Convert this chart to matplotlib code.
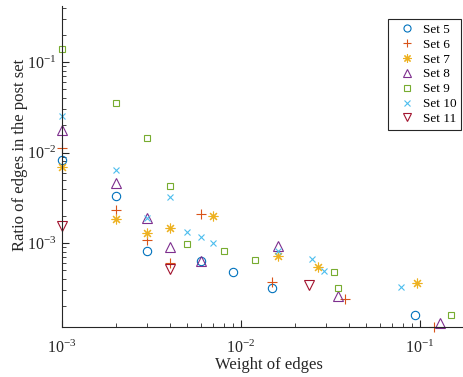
import matplotlib
matplotlib.use("Agg")
import matplotlib.pyplot as plt
from matplotlib.ticker import LogLocator, NullFormatter

plt.rcParams["font.family"] = ["Liberation Serif", "DejaVu Serif"]
plt.rcParams["mathtext.fontset"] = "stix"

# weight of edges / ratio of edges in the post set
set5_x = [0.001, 0.002, 0.003, 0.006, 0.009, 0.015, 0.094]
set5_y = [0.0083, 0.0033, 0.00082, 0.00064, 0.00048, 0.00032, 0.000159]

set6_x = [0.001, 0.002, 0.003, 0.004, 0.006, 0.015, 0.038, 0.12]
set6_y = [0.0111, 0.00232, 0.00108, 0.000605, 0.00209, 0.00037, 0.00024, 0.000119]

set7_x = [0.001, 0.002, 0.003, 0.004, 0.007, 0.016, 0.027, 0.096]
set7_y = [0.00686, 0.00183, 0.00128, 0.00145, 0.002, 0.00072, 0.00054, 0.00036]

set8_x = [0.001, 0.002, 0.003, 0.004, 0.006, 0.016, 0.035, 0.13]
set8_y = [0.0177, 0.00457, 0.00187, 0.00091, 0.00064, 0.00093, 0.000262, 0.00013]

set9_x = [0.001, 0.002, 0.003, 0.004, 0.005, 0.008, 0.012, 0.033, 0.035, 0.15]
set9_y = [0.138, 0.035, 0.0146, 0.0043, 0.00098, 0.00082, 0.00065, 0.00048, 0.00032, 0.000159]

set10_x = [0.001, 0.002, 0.003, 0.004, 0.005, 0.006, 0.007, 0.016, 0.025, 0.029, 0.078]
set10_y = [0.0255, 0.0064, 0.0019, 0.0032, 0.00133, 0.00116, 0.001, 0.00082, 0.00066, 0.00049, 0.00033]

set11_x = [0.001, 0.004, 0.024]
set11_y = [0.00155, 0.000512, 0.00034]

# MATLAB-like asterisk: + and x on top of each other
asterisk = (8, 2, 0)

series = [
    ("Set 5", set5_x, set5_y, "o", 6, "#0072BD"),
    ("Set 6", set6_x, set6_y, "+", 7, "#D95319"),
    ("Set 7", set7_x, set7_y, asterisk, 7, "#EDB120"),
    ("Set 8", set8_x, set8_y, "^", 6.5, "#7E2F8E"),
    ("Set 9", set9_x, set9_y, "s", 5, "#77AC30"),
    ("Set 10", set10_x, set10_y, "x", 4.5, "#4DBEEE"),
    ("Set 11", set11_x, set11_y, "v", 6.5, "#A2142F"),
]

fig = plt.figure(figsize=(4.63, 3.77), dpi=100)
ax = fig.add_axes([62 / 463, 50 / 377, 1 - 62 / 463, 321 / 377])

for label, xs, ys, mk, size, col in series:
    ax.plot(xs, ys, linestyle="none", marker=mk, markersize=size,
            markerfacecolor="none", markeredgecolor=col, markeredgewidth=0.8,
            label=label, clip_on=False)

ax.set_xscale("log")
ax.set_yscale("log")
ax.set_xlim(1e-3, 0.174)
ax.set_ylim(1.18e-4, 0.416)

ax.xaxis.set_major_locator(LogLocator(base=10, numticks=10))
ax.yaxis.set_major_locator(LogLocator(base=10, numticks=10))
ax.xaxis.set_minor_locator(LogLocator(base=10, subs=range(2, 10), numticks=20))
ax.yaxis.set_minor_locator(LogLocator(base=10, subs=range(2, 10), numticks=20))
ax.xaxis.set_minor_formatter(NullFormatter())
ax.yaxis.set_minor_formatter(NullFormatter())

ax.spines["top"].set_visible(False)
ax.spines["right"].set_visible(False)
for sp in ("left", "bottom"):
    ax.spines[sp].set_color("#262626")
    ax.spines[sp].set_linewidth(0.8)
ax.tick_params(which="both", direction="in", colors="#262626", labelsize=11.5)
ax.tick_params(which="major", length=5)
ax.tick_params(which="minor", length=3)
ax.tick_params(axis="x", which="major", pad=9)
ax.tick_params(axis="y", which="major", pad=4)

ax.set_xlabel("Weight of edges", fontsize=12, color="#262626")
ax.set_ylabel("Ratio of edges in the post set", fontsize=12, color="#262626")
ax.xaxis.set_label_coords(0.515, -0.095)
ax.yaxis.set_label_coords(-0.085, 0.536)

leg = ax.legend(loc="upper right", bbox_to_anchor=(461 / 463, 1 - 19 / 377),
                bbox_transform=fig.transFigure, fontsize=9.5, frameon=True,
                fancybox=False, edgecolor="#262626", framealpha=1,
                handlelength=2.2, handletextpad=0.12, labelspacing=0.2,
                borderpad=0.35, borderaxespad=0, markerscale=0.85)
leg.get_frame().set_linewidth(0.8)

fig.savefig("out.png", dpi=100)
